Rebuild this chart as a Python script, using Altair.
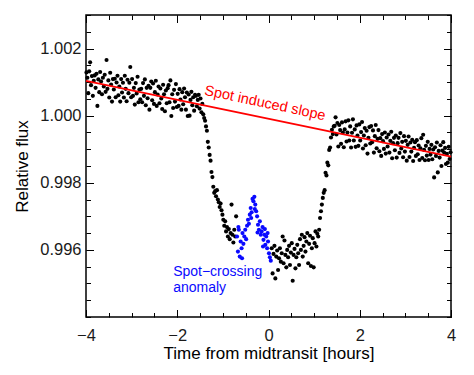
import altair as alt
import pandas as pd

# ---------------- data ----------------
pre_t = [-3.99, -3.97, -3.95, -3.93, -3.91, -3.89, -3.87, -3.85, -3.83, -3.81,
         -3.79, -3.77, -3.75, -3.73, -3.71, -3.69, -3.67, -3.65, -3.63, -3.61,
         -3.59, -3.57, -3.55, -3.53, -3.51, -3.49, -3.47, -3.45, -3.43, -3.41,
         -3.39, -3.37, -3.35, -3.33, -3.31, -3.29, -3.27, -3.25, -3.23, -3.21,
         -3.19, -3.17, -3.15, -3.13, -3.11, -3.09, -3.07, -3.05, -3.03, -3.01,
         -2.99, -2.97, -2.95, -2.93, -2.91, -2.89, -2.87, -2.85, -2.83, -2.81,
         -2.79, -2.77, -2.75, -2.73, -2.71, -2.69, -2.67, -2.65, -2.63, -2.61,
         -2.59, -2.57, -2.55, -2.53, -2.51, -2.49, -2.47, -2.45, -2.43, -2.41,
         -2.39, -2.37, -2.35, -2.33, -2.31, -2.29, -2.27, -2.25, -2.23, -2.21,
         -2.19, -2.17, -2.15, -2.13, -2.11, -2.09, -2.07, -2.05, -2.03, -2.01,
         -1.99, -1.97, -1.95, -1.93, -1.91, -1.89, -1.87, -1.85, -1.83, -1.81,
         -1.79, -1.77, -1.75, -1.73, -1.71, -1.69, -1.67, -1.65, -1.63, -1.61,
         -1.59, -1.57, -1.55, -1.53, -1.51, -1.49, -1.47, -1.45, -1.43]
pre_f = [1.00129, 1.00113, 1.00067, 1.00132, 1.00159, 1.00091, 1.00118, 1.00059, 1.00104, 1.00120,
         1.00083, 1.00125, 1.00029, 1.00108, 1.00070, 1.00130, 1.00102, 1.00064, 1.00113, 1.00087,
         1.00122, 1.00071, 1.00166, 1.00080, 1.00105, 1.00054, 1.00128, 1.00093, 1.00042, 1.00109,
         1.00078, 1.00110, 1.00055, 1.00099, 1.00119, 1.00061, 1.00087, 1.00042, 1.00109, 1.00069,
         1.00098, 1.00054, 1.00119, 1.00080, 1.00043, 1.00107, 1.00067, 1.00098, 1.00145, 1.00055,
         1.00109, 1.00059, 1.00083, 1.00033, 1.00097, 1.00066, 1.00116, 1.00040, 1.00078, 1.00049,
         1.00080, 1.00040, 1.00097, 1.00059, 1.00108, 1.00031, 1.00083, 1.00052, 1.00089, 1.00018,
         1.00083, 1.00102, 1.00046, 1.00096, 1.00035, 1.00070, 1.00104, 1.00029, 1.00063, 1.00087,
         1.00037, 1.00081, 1.00051, 1.00020, 1.00092, 1.00064, 1.00013, 1.00075, 1.00037, 1.00082,
         1.00091, 1.00040, 1.00105, 0.99999, 1.00064, 1.00023, 1.00077, 1.00042, 1.00094, 1.00026,
         1.00065, 1.00029, 1.00079, 1.00048, 1.00018, 1.00070, 1.00034, 1.00081, 1.00055, 1.00018,
         1.00069, 0.99999, 1.00063, 1.00000, 1.00047, 1.00071, 1.00031, 1.00055, 1.00015, 1.00062,
         1.00059, 1.00028, 1.00047, 1.00062, 1.00021, 1.00051, 1.00010, 1.00035, 1.00004]

ingress_t = [-1.41, -1.39, -1.37, -1.35, -1.33, -1.31, -1.29, -1.27, -1.25, -1.23, -1.21, -1.19]
ingress_f = [0.99993, 0.99985, 0.99968, 0.99955, 0.99922, 0.99905, 0.99883, 0.99866, 0.99832, 0.99817,
             0.99788, 0.99770]

bottom1_t = [-1.17, -1.15, -1.13, -1.11, -1.09, -1.07, -1.05, -1.03, -1.01, -0.99,
             -0.97, -0.95, -0.93, -0.91, -0.89, -0.87, -0.85, -0.83, -0.81, -0.79,
             -0.77, -0.75, -0.73, -0.71]
bottom1_f = [0.99775, 0.99760, 0.99778, 0.99750, 0.99742, 0.99728, 0.99738, 0.99718, 0.99705, 0.99690,
             0.99672, 0.99685, 0.99655, 0.99668, 0.99640, 0.99662, 0.99632, 0.99650, 0.99735, 0.99645,
             0.99622, 0.99660, 0.99640, 0.99700]

spot_t = [-0.69, -0.67, -0.65, -0.63, -0.61, -0.59, -0.57, -0.55, -0.53, -0.51,
          -0.49, -0.47, -0.45, -0.43, -0.41, -0.39, -0.37, -0.35, -0.33, -0.31,
          -0.29, -0.27, -0.25, -0.23, -0.21, -0.19, -0.17, -0.15, -0.13, -0.11,
          -0.09, -0.07, -0.05, -0.03, -0.01, 0.01, 0.03, 0.05,
          -0.66, -0.58, -0.38, -0.30, -0.24, -0.12, -0.08, -0.02]
spot_f = [0.99640, 0.99595, 0.99660, 0.99580, 0.99625, 0.99605, 0.99650, 0.99618, 0.99640, 0.99660,
          0.99632, 0.99672, 0.99690, 0.99678, 0.99705, 0.99725, 0.99712, 0.99752, 0.99745, 0.99758,
          0.99735, 0.99715, 0.99700, 0.99675, 0.99660, 0.99685, 0.99645, 0.99655, 0.99668, 0.99630,
          0.99645, 0.99615, 0.99640, 0.99605, 0.99625, 0.99590, 0.99578, 0.99568,
          0.99668, 0.99575, 0.99695, 0.99722, 0.99652, 0.99610, 0.99662, 0.99650]

bottom2_t = [0.07, 0.09, 0.11, 0.13, 0.15, 0.17, 0.19, 0.21, 0.23, 0.25,
             0.27, 0.29, 0.31, 0.33, 0.35, 0.37, 0.39, 0.41, 0.43, 0.45,
             0.47, 0.49, 0.51, 0.53, 0.55, 0.57, 0.59, 0.61, 0.63, 0.65,
             0.67, 0.69, 0.71, 0.73, 0.75, 0.77, 0.79, 0.81, 0.83, 0.85,
             0.87, 0.89, 0.91, 0.93, 0.95, 0.97, 0.99, 1.01, 1.03, 1.05,
             1.07, 1.09]
bottom2_f = [0.99605, 0.99530, 0.99588, 0.99612, 0.99515, 0.99580, 0.99598, 0.99540, 0.99575, 0.99605,
             0.99565, 0.99590, 0.99640, 0.99560, 0.99628, 0.99585, 0.99548, 0.99600, 0.99578, 0.99612,
             0.99555, 0.99592, 0.99620, 0.99508, 0.99585, 0.99603, 0.99545, 0.99578, 0.99615, 0.99590,
             0.99555, 0.99632, 0.99600, 0.99645, 0.99580, 0.99612, 0.99638, 0.99595, 0.99625, 0.99650,
             0.99560, 0.99618, 0.99642, 0.99552, 0.99605, 0.99635, 0.99548, 0.99620, 0.99655, 0.99610,
             0.99648, 0.99640]

egress_t = [1.11, 1.13, 1.15, 1.17, 1.19, 1.21, 1.23, 1.25, 1.27, 1.29,
            1.31, 1.33, 1.35, 1.37, 1.39, 1.41, 1.43]
egress_f = [0.99660, 0.99695, 0.99715, 0.99735, 0.99755, 0.99770, 0.99778, 0.99830, 0.99822, 0.99860,
            0.99852, 0.99898, 0.99905, 0.99935, 0.99958, 0.99945, 0.99968]

post_t = [1.45, 1.47, 1.49, 1.51, 1.53, 1.55, 1.57, 1.59, 1.61, 1.63,
          1.65, 1.67, 1.69, 1.71, 1.73, 1.75, 1.77, 1.79, 1.81, 1.83,
          1.85, 1.87, 1.89, 1.91, 1.93, 1.95, 1.97, 1.99, 2.01, 2.03,
          2.05, 2.07, 2.09, 2.11, 2.13, 2.15, 2.17, 2.19, 2.21, 2.23,
          2.25, 2.27, 2.29, 2.31, 2.33, 2.35, 2.37, 2.39, 2.41, 2.43,
          2.45, 2.47, 2.49, 2.51, 2.53, 2.55, 2.57, 2.59, 2.61, 2.63,
          2.65, 2.67, 2.69, 2.71, 2.73, 2.75, 2.77, 2.79, 2.81, 2.83,
          2.85, 2.87, 2.89, 2.91, 2.93, 2.95, 2.97, 2.99, 3.01, 3.03,
          3.05, 3.07, 3.09, 3.11, 3.13, 3.15, 3.17, 3.19, 3.21, 3.23,
          3.25, 3.27, 3.29, 3.31, 3.33, 3.35, 3.37, 3.39, 3.41, 3.43,
          3.45, 3.47, 3.49, 3.51, 3.53, 3.55, 3.57, 3.59, 3.61, 3.63,
          3.65, 3.67, 3.69, 3.71, 3.73, 3.75, 3.77, 3.79, 3.81, 3.83,
          3.85, 3.87, 3.89, 3.91, 3.93, 3.95, 3.97, 3.99]
post_f = [0.99970, 0.99995, 0.99944, 0.99978, 0.99908, 0.99972, 0.99957, 0.99916, 0.99980, 0.99950,
          0.99906, 0.99959, 0.99983, 0.99923, 0.99950, 0.99986, 0.99926, 0.99968, 0.99905, 0.99949,
          0.99989, 0.99926, 0.99959, 0.99907, 0.99971, 0.99941, 0.99910, 0.99974, 0.99926, 0.99951,
          0.99981, 0.99902, 0.99941, 0.99963, 0.99912, 0.99955, 0.99887, 0.99934, 0.99966, 0.99917,
          0.99969, 0.99921, 0.99956, 0.99890, 0.99939, 0.99972, 0.99903, 0.99931, 0.99957, 0.99894,
          0.99933, 0.99880, 0.99945, 0.99924, 0.99901, 0.99950, 0.99887, 0.99935, 0.99908, 0.99944,
          0.99890, 0.99925, 0.99952, 0.99873, 0.99918, 0.99934, 0.99897, 0.99941, 0.99875, 0.99918,
          0.99934, 0.99889, 0.99948, 0.99902, 0.99922, 0.99876, 0.99939, 0.99893, 0.99925, 0.99866,
          0.99913, 0.99938, 0.99877, 0.99920, 0.99893, 0.99928, 0.99865, 0.99904, 0.99921, 0.99880,
          0.99927, 0.99885, 0.99911, 0.99868, 0.99903, 0.99933, 0.99874, 0.99943, 0.99898, 0.99867,
          0.99910, 0.99881, 0.99922, 0.99868, 0.99901, 0.99884, 0.99913, 0.99870, 0.99899, 0.99816,
          0.99906, 0.99880, 0.99920, 0.99831, 0.99895, 0.99875, 0.99912, 0.99850, 0.99896, 0.99921,
          0.99890, 0.99904, 0.99856, 0.99886, 0.99860, 0.99907, 0.99871, 0.99891]

slope_t = [-4.0, 4.0]
slope_f = [1.00104, 0.99878]

x_major = [-4, -2, 0, 2, 4]
x_minor = [-4, -3.5, -3, -2.5, -2, -1.5, -1, -0.5, 0, 0.5, 1, 1.5, 2, 2.5, 3, 3.5, 4]
y_major = [0.996, 0.998, 1.000, 1.002]
y_minor = [0.994, 0.9945, 0.995, 0.9955, 0.996, 0.9965, 0.997, 0.9975, 0.998, 0.9985,
           0.999, 0.9995, 1.000, 1.0005, 1.001, 1.0015, 1.002, 1.0025, 1.003]

slope_label = "Spot induced slope"
slope_label_t = [-0.077]
slope_label_f = [1.00036]
anomaly_label = "Spot\u2212crossing\nanomaly"
anomaly_label_t = [-2.09]
anomaly_label_f = [0.99521]

# ---------------- build ----------------
FONT = "Liberation Sans"

black_df = pd.DataFrame({
    "t": pre_t + ingress_t + bottom1_t + bottom2_t + egress_t + post_t,
    "f": pre_f + ingress_f + bottom1_f + bottom2_f + egress_f + post_f,
})
blue_df = pd.DataFrame({"t": spot_t, "f": spot_f})
line_df = pd.DataFrame({"t": slope_t, "f": slope_f})
slope_lab_df = pd.DataFrame({"t": slope_label_t, "f": slope_label_f, "txt": [slope_label]})
anom_lab_df = pd.DataFrame({"t": anomaly_label_t, "f": anomaly_label_f, "txt": [anomaly_label]})

xs = alt.Scale(domain=[-4, 4], nice=False, zero=False)
ys = alt.Scale(domain=[0.994, 1.003], nice=False, zero=False)

MAJ = 7.5
MIN = 4.5


def tick_axis(orient, values, size, **kw):
    return alt.Axis(orient=orient, values=values, tickSize=size, offset=-size,
                    domain=False, grid=False, ticks=True, tickColor="black",
                    tickWidth=1, **kw)


main_x_axis = tick_axis("bottom", x_major, MAJ, format="d", labelFlush=False,
                        labelOverlap=False, labelFont=FONT, labelFontSize=16.5,
                        labelColor="#1a1a1a", labelPadding=10,
                        title="Time from midtransit [hours]", titleFont=FONT,
                        titleFontSize=17, titleFontWeight="normal",
                        titleColor="black", titlePadding=2)
main_y_axis = tick_axis("left", y_major, MAJ, format=".3f", labelOverlap=False,
                        labelFont=FONT, labelFontSize=16.5, labelColor="#1a1a1a",
                        labelPadding=5, title="Relative flux", titleFont=FONT,
                        titleFontSize=17, titleFontWeight="normal",
                        titleColor="black", titlePadding=8)

X = alt.X("t:Q", scale=xs, axis=main_x_axis)
Y = alt.Y("f:Q", scale=ys, axis=main_y_axis)

black_pts = alt.Chart(black_df).mark_circle(size=17, color="black", opacity=1).encode(x=X, y=Y)
blue_pts = alt.Chart(blue_df).mark_circle(size=17, color="#0a0aff", opacity=1).encode(x=X, y=Y)
slope_line = alt.Chart(line_df).mark_line(color="#ff0000", strokeWidth=1.8).encode(x=X, y=Y)
slope_text = alt.Chart(slope_lab_df).mark_text(
    color="#ff0000", font=FONT, fontSize=14.5, angle=12, align="center",
    baseline="middle").encode(x=X, y=Y, text="txt:N")
anom_text = alt.Chart(anom_lab_df).mark_text(
    color="#0a0aff", font=FONT, fontSize=14, align="left", baseline="alphabetic",
    lineBreak="\n", lineHeight=16).encode(x=X, y=Y, text="txt:N")

main = alt.layer(black_pts, blue_pts, slope_line, slope_text, anom_text)


def tick_layer(xo, xv, yo, yv, size):
    return alt.Chart(line_df).mark_point(opacity=0).encode(
        x=alt.X("t:Q", scale=xs, axis=tick_axis(xo, xv, size, labels=False, title=None)),
        y=alt.Y("f:Q", scale=ys, axis=tick_axis(yo, yv, size, labels=False, title=None)),
    )


chart = alt.layer(
    main,
    tick_layer("bottom", x_minor, "left", y_minor, MIN),
    tick_layer("top", x_major, "right", y_major, MAJ),
    tick_layer("top", x_minor, "right", y_minor, MIN),
).resolve_scale(x="independent", y="independent").properties(
    width=365, height=302,
    autosize=alt.AutoSizeParams(type="none"),
    padding={"left": 86, "top": 15, "right": 23, "bottom": 58},
    background="white",
).configure_view(stroke="black", strokeWidth=1.5)

chart.save("out.html", embed_options={"renderer": "svg", "actions": False})
